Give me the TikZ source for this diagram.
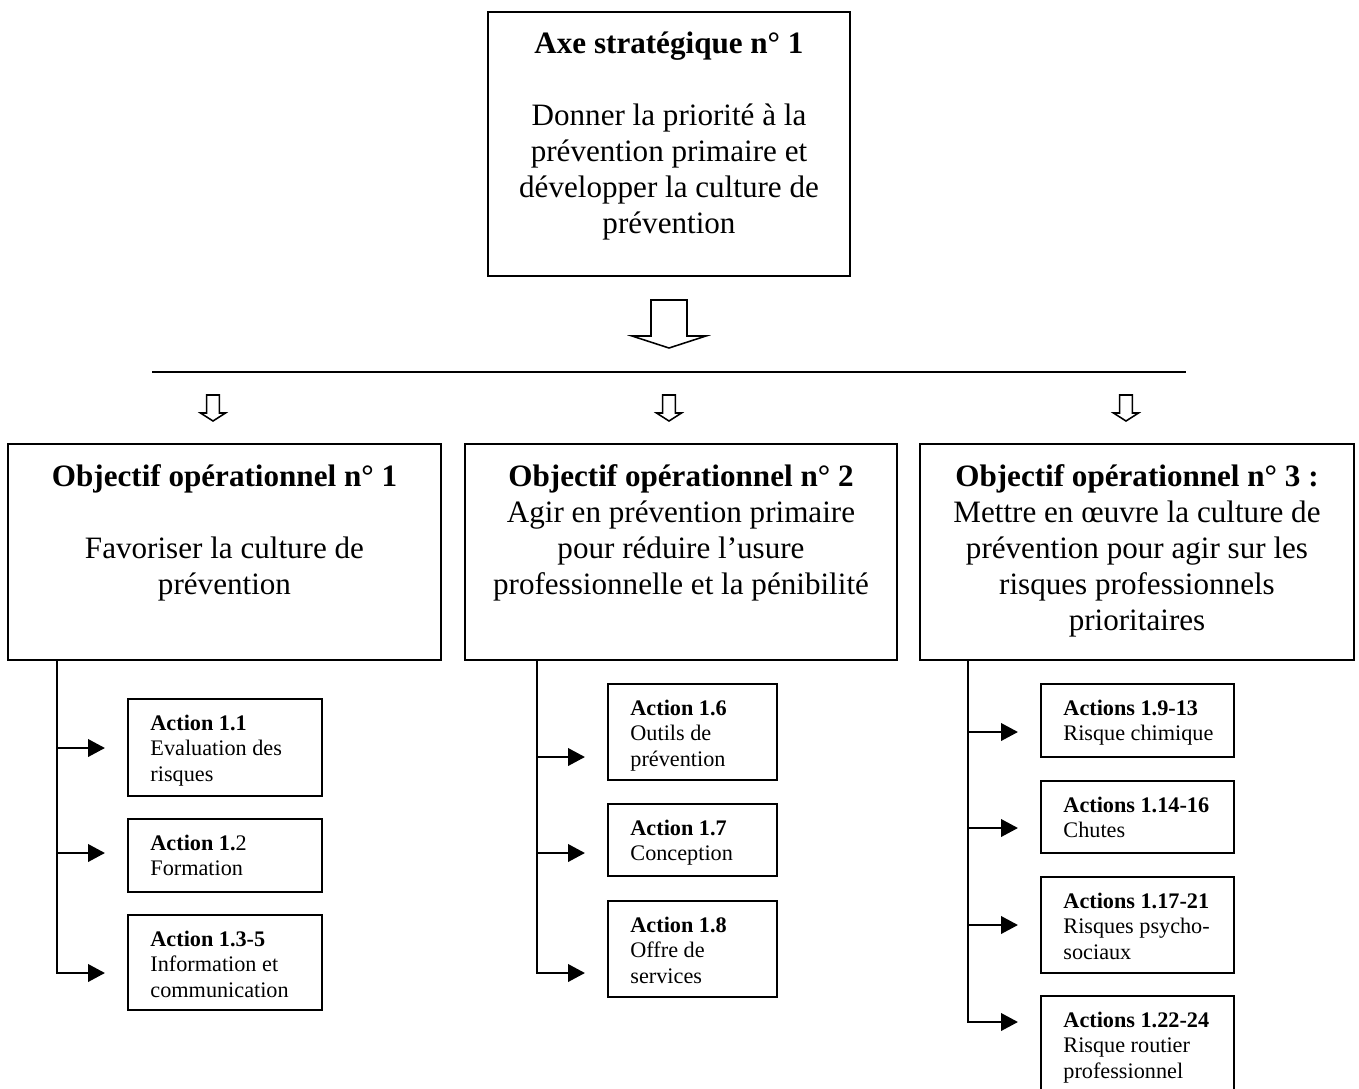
\documentclass[tikz,border=0pt]{standalone}
\usepackage{fontspec}
\setmainfont{Liberation Serif}
\usetikzlibrary{positioning,arrows.meta}
\newcommand{\pxl}{0.45pt}
\newcommand{\firstline}[1]{\rule{0pt}{#1}}

\begin{document}
\begin{tikzpicture}[x=0.45pt,y=-0.45pt]
                \tikzstyle{frame}=[draw, line width=0.7pt, inner sep=0pt, outer sep=0pt, anchor=north west]
                \tikzstyle{bigtext}=[inner sep=0pt, align=center, font=\fontsize{14}{16.2}\selectfont]
                \tikzstyle{smalltext}=[inner sep=0pt, align=left, font=\fontsize{10}{11.5}\selectfont]
                \tikzstyle{block}=[draw, line width=0.7pt, fill=white, line join=miter]
                \tikzstyle{link}=[line width=0.6pt, -{Triangle[length=7.6pt,width=8pt]}, shorten >=10.4pt]
                \useasboundingbox (0,0) rectangle (1359,1088);

                \node (axe)     [frame, minimum width=362*\pxl, minimum height=264*\pxl] at (488,12)  {};
                \node (axet)    [bigtext, below=7.5pt of axe.north]    {\firstline{11pt}\textbf{Axe stratégique n° 1}\\[16.2pt] Donner la priorité à la\\ prévention primaire et\\ développer la culture de\\ prévention};

                \draw[block] (651,300) -- (687,300) -- (687,336) -- (706,336) -- (669,348) -- (632,336) -- (651,336) -- cycle;
                \draw[line width=0.7pt] (152,372) -- (1186,372);
                \foreach \x in {213,669,1126}
                    \draw[block] (\x-6.3,395) -- (\x+6.3,395) -- (\x+6.3,413) -- (\x+12.5,413) -- (\x,421) -- (\x-12.5,413) -- (\x-6.3,413) -- cycle;

                \node (obj1)    [frame, minimum width=433*\pxl, minimum height=216*\pxl] at (8,444)   {};
                \node (obj2)    [frame, minimum width=432*\pxl, minimum height=216*\pxl] at (465,444) {};
                \node (obj3)    [frame, minimum width=434*\pxl, minimum height=216*\pxl] at (920,444) {};
                \node (obj1t)   [bigtext, below=7.9pt of obj1.north]   {\firstline{11pt}\textbf{Objectif opérationnel n° 1}\\[16.2pt] Favoriser la culture de\\ prévention};
                \node (obj2t)   [bigtext, below=7.9pt of obj2.north]   {\firstline{11pt}\textbf{Objectif opérationnel n° 2}\\ Agir en prévention primaire\\ pour réduire l’usure\\ professionnelle et la pénibilité};
                \node (obj3t)   [bigtext, below=7.9pt of obj3.north]   {\firstline{11pt}\textbf{Objectif opérationnel n° 3 :}\\ Mettre en œuvre la culture de\\ prévention pour agir sur les\\ risques professionnels\\ prioritaires};

                \node (a11)     [frame, minimum width=194*\pxl, minimum height=97*\pxl]  at (128,699)  {};
                \node (a12)     [frame, minimum width=194*\pxl, minimum height=73*\pxl]  at (128,819)  {};
                \node (a13)     [frame, minimum width=194*\pxl, minimum height=95*\pxl]  at (128,915)  {};
                \node (a16)     [frame, minimum width=169*\pxl, minimum height=96*\pxl]  at (608,684)  {};
                \node (a17)     [frame, minimum width=169*\pxl, minimum height=72*\pxl]  at (608,804)  {};
                \node (a18)     [frame, minimum width=169*\pxl, minimum height=96*\pxl]  at (608,901)  {};
                \node (a19)     [frame, minimum width=193*\pxl, minimum height=73*\pxl]  at (1041,684) {};
                \node (a114)    [frame, minimum width=193*\pxl, minimum height=72*\pxl]  at (1041,781) {};
                \node (a117)    [frame, minimum width=193*\pxl, minimum height=96*\pxl]  at (1041,877) {};
                \node (a122)    [frame, minimum width=193*\pxl, minimum height=100*\pxl] at (1041,996) {};

                \node (a11t)    [smalltext, below right=5.9pt and 9.9pt of a11.north west]  {\firstline{8pt}\textbf{Action 1.1}\\ Evaluation des\\ risques};
                \node (a12t)    [smalltext, below right=5.9pt and 9.9pt of a12.north west]  {\firstline{8pt}\textbf{Action 1.}2\\ Formation};
                \node (a13t)    [smalltext, below right=5.9pt and 9.9pt of a13.north west]  {\firstline{8pt}\textbf{Action 1.3-5}\\ Information et\\ communication};
                \node (a16t)    [smalltext, below right=5.9pt and 9.9pt of a16.north west]  {\firstline{8pt}\textbf{Action 1.6}\\ Outils de\\ prévention};
                \node (a17t)    [smalltext, below right=5.9pt and 9.9pt of a17.north west]  {\firstline{8pt}\textbf{Action 1.7}\\ Conception};
                \node (a18t)    [smalltext, below right=5.9pt and 9.9pt of a18.north west]  {\firstline{8pt}\textbf{Action 1.8}\\ Offre de\\ services};
                \node (a19t)    [smalltext, below right=5.9pt and 9.9pt of a19.north west]  {\firstline{8pt}\textbf{Actions 1.9-13}\\ Risque chimique};
                \node (a114t)   [smalltext, below right=5.9pt and 9.9pt of a114.north west] {\firstline{8pt}\textbf{Actions 1.14-16}\\ Chutes};
                \node (a117t)   [smalltext, below right=5.9pt and 9.9pt of a117.north west] {\firstline{8pt}\textbf{Actions 1.17-21}\\ Risques psycho-\\ sociaux};
                \node (a122t)   [smalltext, below right=5.9pt and 9.9pt of a122.north west] {\firstline{8pt}\textbf{Actions 1.22-24}\\ Risque routier\\ professionnel};

                \draw[link] (obj1.south -| 57,0)  |- (a13.west |- 0,973);
                \draw[link] (obj2.south -| 537,0) |- (a18.west |- 0,973);
                \draw[link] (obj3.south -| 968,0) |- (a122.west |- 0,1022);
                \foreach \a/\y in {a11/748, a12/853}
                    \draw[link] (57,\y) -- (\a.west |- 0,\y);
                \foreach \a/\y in {a16/757, a17/853}
                    \draw[link] (537,\y) -- (\a.west |- 0,\y);
                \foreach \a/\y in {a19/732, a114/828, a117/925}
                    \draw[link] (968,\y) -- (\a.west |- 0,\y);
            \end{tikzpicture}
\end{document}
